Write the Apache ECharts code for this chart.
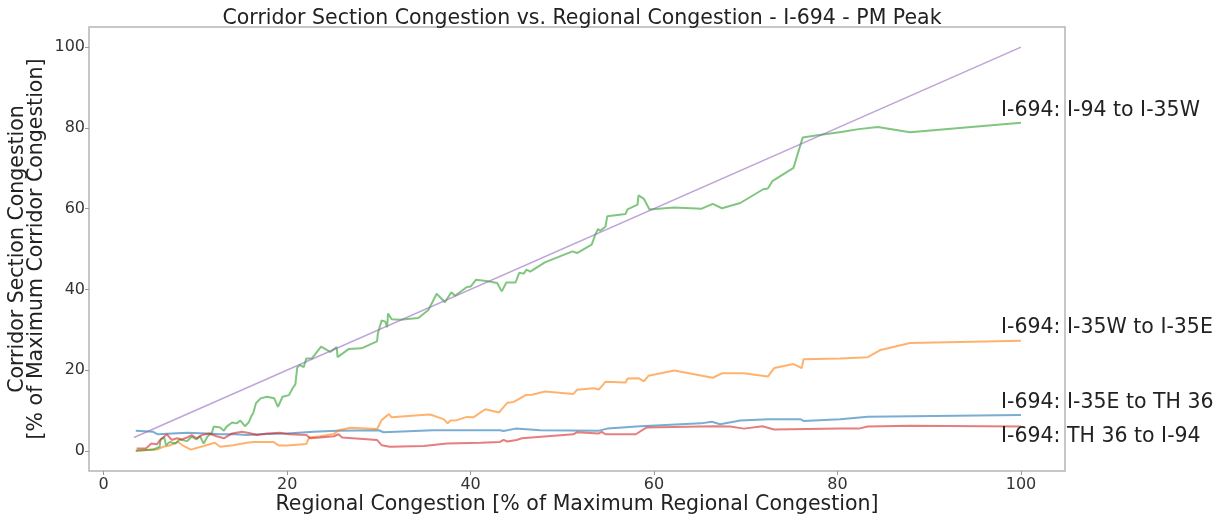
<!DOCTYPE html>
<html>
<head>
<meta charset="utf-8">
<script src="https://cdn.jsdelivr.net/npm/echarts@6.0.0/dist/echarts.min.js"></script>
</head>
<body style="margin:0; background:#fff">
<div id="main" style="width:1229px; height:520px"></div>
<script>
// x = regional congestion %, y = corridor section congestion %
var xTicks = [0, 20, 40, 60, 80, 100];
var yTicks = [0, 20, 40, 60, 80, 100];

var seriesNames = ['I-694: I-35E to TH 36', 'I-694: I-35W to I-35E', 'I-694: I-94 to I-35W', 'I-694: TH 36 to I-94'];

var i35eToTh36 = [[3.5,5.0],[5.4,4.7],[5.9,4.1],[9.1,4.5],[11.2,4.3],[12.7,4.1],[14.3,4.1],[15.6,3.9],[17.1,4.1],[20.0,4.3],
  [22.9,4.7],[25.4,5.0],[30.0,5.1],[30.5,4.6],[35.9,5.1],[43.2,5.1],[43.6,4.9],[44.9,5.5],[47.6,5.1],[54.0,5.0],[54.9,5.5],
  [58.5,6.1],[65.1,6.8],[66.3,7.2],[67.2,6.6],[69.4,7.5],[72.5,7.8],[76.0,7.8],[76.3,7.4],[80.3,7.8],[83.3,8.45],[100,8.9]];

var i35wToI35e = [[3.5,0],[5.8,0.3],[6.5,1.0],[7.3,1.4],[8.1,2.2],[8.7,1.2],[9.5,0.3],[10.9,1.2],[12.1,2.0],[12.7,1.0],
  [14.1,1.4],[15.6,2.0],[16.4,2.2],[18.5,2.2],[19.1,1.3],[20.0,1.3],[22.1,1.7],[22.4,3.3],[23.6,3.6],[25.1,4.2],[25.6,5.1],
  [26.9,5.7],[29.8,5.4],[30.3,7.6],[31.1,9.1],[31.4,8.3],[34.7,8.9],[35.6,9.0],[37.1,7.8],[37.5,6.8],[37.8,7.5],[38.5,7.6],
  [39.6,8.4],[40.3,8.3],[41.6,10.3],[43.1,9.5],[44.0,11.9],[44.7,12.1],[45.1,12.6],[46.0,13.8],[46.7,13.9],[48.1,14.7],
  [51.2,14.1],[51.6,15.1],[53.4,15.5],[54.0,15.2],[54.7,17.1],[56.9,16.9],[57.1,17.9],[58.3,18.0],[58.9,17.2],[59.4,18.6],
  [62.2,19.9],[66.4,18.1],[67.4,19.2],[69.8,19.2],[72.4,18.4],[73.1,20.5],[75.2,21.5],[76.1,20.5],[76.3,22.7],[80.3,22.9],
  [83.3,23.2],[84.7,25.0],[87.9,26.7],[100,27.3]];

var i94ToI35w = [[3.5,0],[5.4,0.3],[6.1,1.0],[6.2,2.8],[6.6,3.3],[6.8,1.4],[7.2,2.2],[7.8,1.8],[8.3,2.8],[9.1,2.4],[9.6,3.5],
  [10.1,2.8],[10.5,3.6],[10.9,1.8],[11.3,3.5],[11.8,4.5],[12.0,6.0],[12.7,5.8],[13.1,5.0],[13.4,6.0],[14.0,7.0],[14.5,6.8],
  [14.9,7.5],[15.4,6.1],[15.8,7.0],[16.1,8.6],[16.3,9.3],[16.6,11.8],[17.1,13.0],[17.8,13.4],[18.6,13.0],[19.0,10.9],
  [19.5,13.4],[20.2,13.8],[20.6,15.5],[20.9,16.5],[21.1,20.6],[21.4,21.3],[21.8,20.7],[22.1,22.9],[22.7,22.9],[23.7,25.8],
  [24.7,24.5],[25.4,25.7],[25.5,23.2],[26.7,25.2],[28.1,25.4],[29.8,27.1],[29.9,29.2],[30.1,28.9],[30.3,32.3],[30.7,32.0],
  [30.9,30.6],[31.0,34.0],[31.4,32.6],[32.3,32.5],[34.3,32.9],[35.4,34.9],[36.3,38.9],[37.2,36.8],[37.9,39.3],[38.3,38.4],
  [39.6,40.6],[40.0,40.7],[40.6,42.4],[41.9,42.0],[42.9,41.6],[43.4,39.5],[43.9,41.7],[44.9,41.7],[45.3,44.1],[45.8,43.9],
  [46.1,44.9],[46.5,44.4],[48.1,46.7],[51.1,49.4],[51.6,49.0],[53.2,51.1],[53.6,53.6],[53.9,55.0],[54.1,54.5],[54.7,55.5],
  [54.9,58.1],[56.9,58.7],[57.1,59.8],[58.2,61.0],[58.3,63.3],[58.9,62.4],[59.5,59.8],[62.2,60.3],[65.2,60.0],[66.4,61.2],
  [67.4,60.1],[69.4,61.4],[71.9,64.8],[72.4,65.0],[72.9,66.8],[75.2,70.1],[76.2,77.6],[77.8,78.2],[80.4,79.0],[82.3,79.7],
  [84.4,80.2],[87.9,78.9],[100,81.3]];

var th36ToI94 = [[3.6,0.6],[4.6,0.6],[5.2,1.8],[5.8,1.6],[6.2,2.8],[6.9,4.1],[7.4,2.7],[8.0,3.1],[8.5,2.8],[9.1,3.3],[9.6,3.9],
  [10.1,3.1],[10.7,3.9],[11.5,4.3],[12.3,3.6],[13.1,3.1],[14.0,4.3],[15.1,4.7],[16.1,4.3],[16.7,3.9],[17.8,4.3],[19.2,4.5],
  [20.3,4.1],[22.1,3.9],[22.5,3.1],[23.6,3.3],[25.1,3.6],[25.6,4.1],[26.0,3.3],[29.8,2.7],[30.3,1.4],[31.2,1.0],[34.9,1.2],
  [37.4,1.8],[41.1,2.0],[43.2,2.2],[43.6,2.7],[44.0,2.3],[45.0,2.7],[45.6,3.1],[51.2,4.1],[51.6,4.6],[54.0,4.3],[54.3,4.7],
  [54.7,4.1],[54.9,4.5],[57.1,4.1],[58.0,4.1],[59.2,5.8],[66.5,6.1],[68.3,6.0],[69.8,5.5],[71.8,6.1],[73.1,5.3],[80.3,5.5],
  [82.3,5.5],[83.3,6.0],[87.9,6.2],[100,6.0]];

var regional = [[3.3,3.3],[100,100]];

var colors = ['#1f77b4', '#ff7f0e', '#2ca02c', '#d62728', '#9467bd'];
var labelOffsets = [[-20,-12],[-20,-13],[-20,-12],[-20,10]];
var font = 'DejaVu Sans';

function lineSeries(name, data, idx) {
  return {
    name: name,
    type: 'line',
    data: data,
    showSymbol: false,
    symbol: 'none',
    lineStyle: { color: colors[idx], width: 2, opacity: 0.6 },
    itemStyle: { color: colors[idx] },
    endLabel: {
      show: true,
      formatter: '{a}',
      distance: 0,
      offset: labelOffsets[idx],
      fontFamily: font,
      fontSize: 20.5,
      color: '#222'
    }
  };
}

var chart = echarts.init(document.getElementById('main'));
chart.setOption({
  animation: false,
  title: {
    text: 'Corridor Section Congestion vs. Regional Congestion - I-694 - PM Peak',
    left: 577, top: 3, textAlign: 'center',
    textStyle: { fontFamily: font, fontSize: 20.5, fontWeight: 'normal', color: '#222' }
  },
  grid: {
    left: 89, top: 27, right: 164, bottom: 49,
    outerBoundsMode: 'none',
    containLabel: false,
    show: true, borderColor: '#b5b5b5', borderWidth: 1.5
  },
  xAxis: {
    type: 'value', min: -1.6, max: 104.8,
    name: 'Regional Congestion [% of Maximum Regional Congestion]',
    nameLocation: 'middle', nameGap: 23, nameMoveOverlap: false,
    nameTextStyle: { fontFamily: font, fontSize: 20.5, color: '#222' },
    axisLine: { show: false, onZero: false },
    splitLine: { show: false },
    axisTick: { show: true, length: 4, lineStyle: { color: '#999' }, customValues: xTicks },
    axisLabel: { fontFamily: font, fontSize: 16, color: '#333', margin: 6, customValues: xTicks }
  },
  yAxis: {
    type: 'value', min: -5, max: 105,
    name: 'Corridor Section Congestion\n[% of Maximum Corridor Congestion]',
    nameLocation: 'middle', nameGap: 43, nameMoveOverlap: false,
    nameTextStyle: { fontFamily: font, fontSize: 20.5, color: '#222', lineHeight: 19 },
    axisLine: { show: false, onZero: false },
    splitLine: { show: false },
    axisTick: { show: true, length: 4, lineStyle: { color: '#999' }, customValues: yTicks },
    axisLabel: { fontFamily: font, fontSize: 16, color: '#333', margin: 4, customValues: yTicks }
  },
  series: [
    lineSeries(seriesNames[0], i35eToTh36, 0),
    lineSeries(seriesNames[1], i35wToI35e, 1),
    lineSeries(seriesNames[2], i94ToI35w, 2),
    lineSeries(seriesNames[3], th36ToI94, 3),
    {
      name: 'Regional', type: 'line', data: regional, symbol: 'none',
      lineStyle: { color: colors[4], width: 1.5, opacity: 0.6 }
    }
  ]
});
</script>
</body>
</html>
